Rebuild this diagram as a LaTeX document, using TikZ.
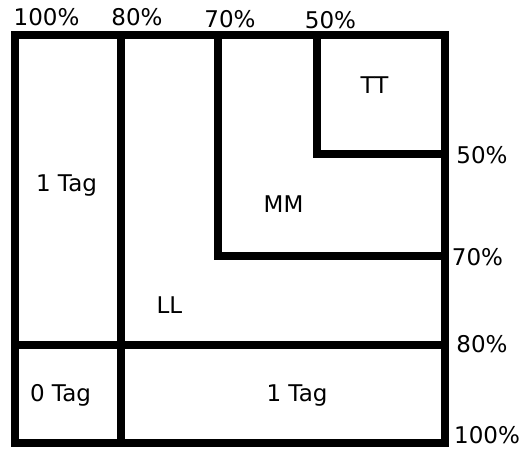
\documentclass[tikz,border=0pt]{standalone}
\usepackage{fontspec}
\setmainfont{DejaVu Sans}
\begin{document}
\begin{tikzpicture}[x=1pt,y=-1pt,
  wall/.style={line width=8pt,line join=miter,line cap=rect},
  lbl/.style={inner sep=0pt,anchor=base,font=\fontsize{23}{27}\selectfont}]
\useasboundingbox (0,0) rectangle (520,449);
% corners
\coordinate (TL) at (15,35);
\coordinate (TR) at (445,35);
\coordinate (BL) at (15,443);
\coordinate (BR) at (445,443);
% walls
\draw[wall] (TL) rectangle (BR);
\draw[wall] (121,35) -- (121,443);
\draw[wall] (15,345) -- (445,345);
\draw[wall] (218,35) -- (218,256) -- (445,256);
\draw[wall] (317,35) -- (317,154) -- (445,154);
% top labels
\node[lbl] (t100) at (46.5,26) {100\%};
\node[lbl] (t80) at (137,26) {80\%};
\node[lbl] (t70) at (230,28) {70\%};
\node[lbl] (t50) at (330.5,29) {50\%};
% right labels
\node[lbl] (r50) at (482,164) {50\%};
\node[lbl] (r70) at (477.5,266) {70\%};
\node[lbl] (r80) at (482,353) {80\%};
\node[lbl] (r100) at (487,443) {100\%};
% region labels
\node[lbl] (tag1a) at (66.5,192) {1 Tag};
\node[lbl] (tt) at (374.5,94) {TT};
\node[lbl] (mm) at (283.5,213) {MM};
\node[lbl] (ll) at (169.5,314) {LL};
\node[lbl] (tag0) at (60.5,401) {0 Tag};
\node[lbl] (tag1b) at (297,401) {1 Tag};
\end{tikzpicture}
\end{document}
